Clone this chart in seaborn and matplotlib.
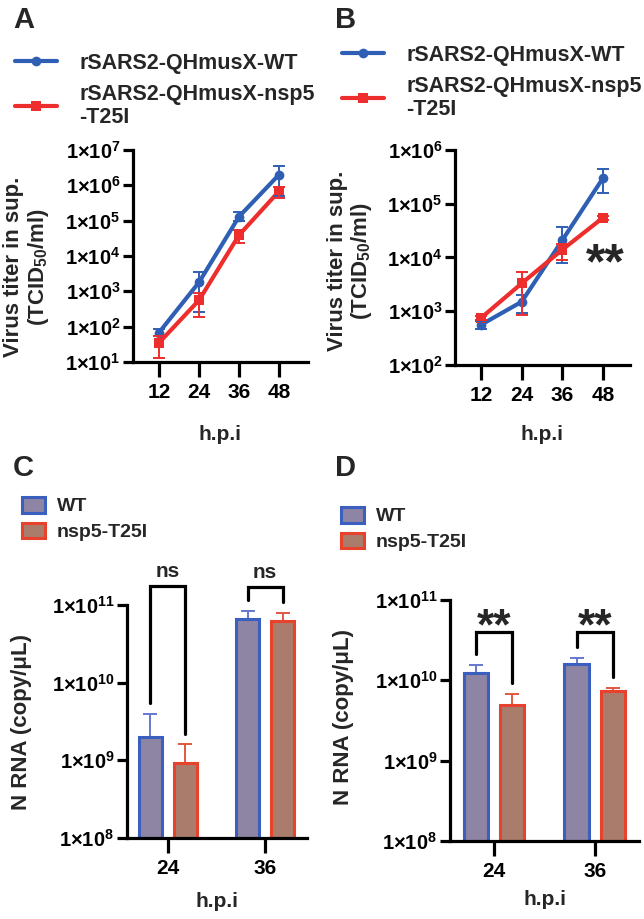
import numpy as np
import pandas as pd
import seaborn as sns
import matplotlib
matplotlib.use('Agg')
import matplotlib.pyplot as plt
from matplotlib import transforms

# ---- data ----
hpi = [12, 24, 36, 48]
strain_wt = 'rSARS2-QHmusX-WT'
strain_mut = 'rSARS2-QHmusX-nsp5\n-T25I'

# panel A: virus titer (TCID50/ml)
a_wt = [68, 1.8e3, 1.3e5, 2.0e6]
a_wt_lo = [55, 260, 1.0e5, 5.0e5]
a_wt_hi = [85, 3.5e3, 1.8e5, 3.6e6]
a_mut = [35, 560, 3.9e4, 6.8e5]
a_mut_lo = [13, 190, 2.3e4, 4.4e5]
a_mut_hi = [55, 900, 5.5e4, 9.0e5]

# panel B
b_wt = [560, 1.5e3, 2.1e4, 3.0e5]
b_wt_lo = [470, 930, 8.0e3, 1.6e5]
b_wt_hi = [650, 2.0e3, 3.7e4, 4.5e5]
b_mut = [750, 3.3e3, 1.4e4, 5.5e4]
b_mut_lo = [680, 850, 9.0e3, 5.0e4]
b_mut_hi = [820, 5.4e3, 1.8e4, 6.0e4]

# panels C/D: N RNA (copy/uL)
bar_hpi = ['24', '36']
bar_groups = ['WT', 'nsp5-T25I']
c_wt = [2.0e9, 6.6e10]
c_wt_hi = [4.0e9, 8.4e10]
c_mut = [9.3e8, 6.2e10]
c_mut_hi = [1.6e9, 7.9e10]
c_sig = ['ns', 'ns']

d_wt = [1.23e10, 1.6e10]
d_wt_hi = [1.55e10, 1.9e10]
d_mut = [4.9e9, 7.4e9]
d_mut_hi = [6.8e9, 8.0e9]
d_sig = ['**', '**']

line_colors = ['#2e5fb5', '#ee2d2d']
bar_fill = ['#8e84a3', '#a97c6c']
bar_edge = ['#3a5fbf', '#e8412c']
err_colors = ['#6478cf', '#e0583f']

sns.set_theme(style='ticks')
plt.rcParams['font.family'] = ['Liberation Sans', 'DejaVu Sans']
plt.rcParams['font.weight'] = 'bold'
plt.rcParams['axes.labelweight'] = 'bold'
plt.rcParams['mathtext.fontset'] = 'custom'
plt.rcParams['mathtext.rm'] = 'Liberation Sans:bold'
plt.rcParams['mathtext.it'] = 'Liberation Sans:bold'
plt.rcParams['mathtext.bf'] = 'Liberation Sans:bold'
plt.rcParams['axes.linewidth'] = 2.3

W, H = 644, 919
fig = plt.figure(figsize=(W / 100, H / 100), dpi=100)


def px_axes(x0, y0, x1, y1):
    return fig.add_axes([x0 / W, 1 - y1 / H, (x1 - x0) / W, (y1 - y0) / H])


def style_axes(ax, yexps, ylabel, ylab_xy, xlab_xy):
    sns.despine(ax=ax)
    ax.set_yticks([10.0 ** e for e in yexps], ['1×10$^{%d}$' % e for e in yexps])
    ax.minorticks_off()
    ax.tick_params(axis='y', length=7, width=2.3, labelsize=14.5, pad=2, colors='black')
    ax.tick_params(axis='x', length=11, width=2.3, labelsize=15, pad=4, colors='black')
    ax.set_ylabel(ylabel, fontsize=16, linespacing=1.1)
    ax.yaxis.set_label_coords(*ylab_xy)
    ax.set_xlabel('h.p.i', fontsize=15)
    ax.xaxis.set_label_coords(*xlab_xy)
    ax.xaxis.label.set_va('top')
    for s in ax.spines.values():
        s.set_color('black')


def line_panel(ax, wt, wt_lo, wt_hi, mut, mut_lo, mut_hi, xlim, yexps, leg_xy):
    df = pd.DataFrame({
        'hpi': hpi * 2,
        'titer': wt + mut,
        'virus': [strain_wt] * 4 + [strain_mut] * 4,
    })
    sns.lineplot(data=df, x='hpi', y='titer', hue='virus', style='virus',
                 markers=['o', 's'], dashes=False, palette=line_colors,
                 linewidth=3, markersize=7, markeredgewidth=0, ax=ax)
    ax.set_yscale('log')
    for vals, lo, hi, c in [(wt, wt_lo, wt_hi, line_colors[0]),
                            (mut, mut_lo, mut_hi, line_colors[1])]:
        vals, lo, hi = np.array(vals), np.array(lo), np.array(hi)
        ax.errorbar(hpi, vals, yerr=[vals - lo, hi - vals], fmt='none',
                    ecolor=c, elinewidth=1.4, capsize=4, capthick=1.4, zorder=3)
    ax.set_xlim(*xlim)
    ax.set_ylim(10.0 ** yexps[0], 10.0 ** yexps[-1])
    ax.set_xticks(hpi)
    sns.move_legend(ax, 'upper left', bbox_to_anchor=leg_xy, bbox_transform=fig.transFigure,
                    frameon=False, title=None, fontsize=15.5, borderpad=0, borderaxespad=0,
                    handlelength=1.95, handletextpad=1.05, labelspacing=0.45)
    for t in ax.get_legend().get_texts():
        t.set_linespacing(1.15)


def bar_panel(ax, wt, wt_hi, mut, mut_hi, sig, xlim, bracket_top, sig_size, sig_dy, leg_xy):
    df = pd.DataFrame({
        'hpi': bar_hpi * 2,
        'rna': wt + mut,
        'group': [bar_groups[0]] * 2 + [bar_groups[1]] * 2,
    })
    ax.set_yscale('log')
    sns.barplot(data=df, x='hpi', y='rna', hue='group', palette=bar_fill,
                width=0.72, gap=0.33, errorbar=None,
                linewidth=2.2, saturation=1, ax=ax)
    centers = []
    for cont, ec, means, tops, erc in zip(ax.containers, bar_edge, [wt, mut],
                                          [wt_hi, mut_hi], err_colors):
        xs = []
        for bar in cont:
            # start bars just below the axis floor so the log scale can draw them
            top = bar.get_y() + bar.get_height()
            bar.set_y(1e7)
            bar.set_height(top - 1e7)
            bar.set_edgecolor(ec)
            bar.set_zorder(2)
            xs.append(bar.get_x() + bar.get_width() / 2)
        means, tops = np.array(means), np.array(tops)
        ax.errorbar(xs, means, yerr=[np.zeros_like(means), tops - means], fmt='none',
                    ecolor=erc, elinewidth=1.4, capsize=5, capthick=1.4, zorder=1)
        centers.append(xs)
    # significance brackets
    for i in range(len(bar_hpi)):
        x0, x1 = centers[0][i], centers[1][i]
        top = bracket_top[i]
        ax.plot([x0, x0, x1, x1], [wt_hi[i] * 1.37, top, top, mut_hi[i] * 1.37],
                color='black', lw=2.3, clip_on=False, zorder=4, solid_joinstyle='miter')
        off = transforms.offset_copy(ax.transData, fig=fig, x=0, y=sig_dy, units='points')
        ax.text((x0 + x1) / 2, top, sig[i], transform=off, ha='center', va='baseline',
                fontsize=sig_size, fontweight='bold', clip_on=False)
    ax.set_xlim(*xlim)
    ax.set_ylim(1e8, 1e11)
    sns.move_legend(ax, 'upper left', bbox_to_anchor=leg_xy, bbox_transform=fig.transFigure,
                    frameon=False, title=None, fontsize=14, borderpad=0, borderaxespad=0,
                    handlelength=1.2, handleheight=0.85, handletextpad=0.6, labelspacing=0.38)
    for h, ec in zip(ax.get_legend().legend_handles, bar_edge):
        h.set_edgecolor(ec)
        h.set_linewidth(2.2)


# ---- A ----
axA = px_axes(133, 150, 308, 362)
line_panel(axA, a_wt, a_wt_lo, a_wt_hi, a_mut, a_mut_lo, a_mut_hi,
           (4.2, 56.7), [1, 2, 3, 4, 5, 6, 7], (15 / W, 1 - 53 / H))
style_axes(axA, [1, 2, 3, 4, 5, 6, 7], 'Virus titer in sup.\n(TCID$_{50}$/ml)',
           (-0.47, 0.45), (0.497, -0.297))

# ---- B ----
axB = px_axes(455, 150, 630, 365)
line_panel(axB, b_wt, b_wt_lo, b_wt_hi, b_mut, b_mut_lo, b_mut_hi,
           (4.33, 55.97), [2, 3, 4, 5, 6], (342 / W, 1 - 45 / H))
style_axes(axB, [2, 3, 4, 5, 6], 'Virus titer in sup.\n(TCID$_{50}$/ml)',
           (-0.46, 0.484), (0.5, -0.279))
axB.text(48.6, 10 ** 3.62, '**', ha='center', va='baseline', fontsize=36, fontweight='bold')

# ---- C ----
axC = px_axes(127, 605, 307, 838)
bar_panel(axC, c_wt, c_wt_hi, c_mut, c_mut_hi, c_sig, (-0.42, 1.43),
          [1.76e11, 1.7e11], 15, 6.5, (22 / W, 1 - 497 / H))
style_axes(axC, [8, 9, 10, 11], 'N RNA (copy/μL)', (-0.53, 0.5), (0.5, -0.232))

# ---- D ----
axD = px_axes(450, 600, 639, 841)
bar_panel(axD, d_wt, d_wt_hi, d_mut, d_mut_hi, d_sig, (-0.435, 1.44),
          [4.0e10, 4.0e10], 32, -5, (341 / W, 1 - 507 / H))
style_axes(axD, [8, 9, 10, 11], 'N RNA (copy/μL)', (-0.51, 0.515), (0.503, -0.203))

# panel letters
for letter, x, y in [('A', 13, 6), ('B', 335, 6), ('C', 13, 454), ('D', 335, 454)]:
    fig.text(x / W, 1 - y / H, letter, fontsize=21, fontweight='bold', va='top', ha='left')

fig.savefig('out.png', dpi=100)
